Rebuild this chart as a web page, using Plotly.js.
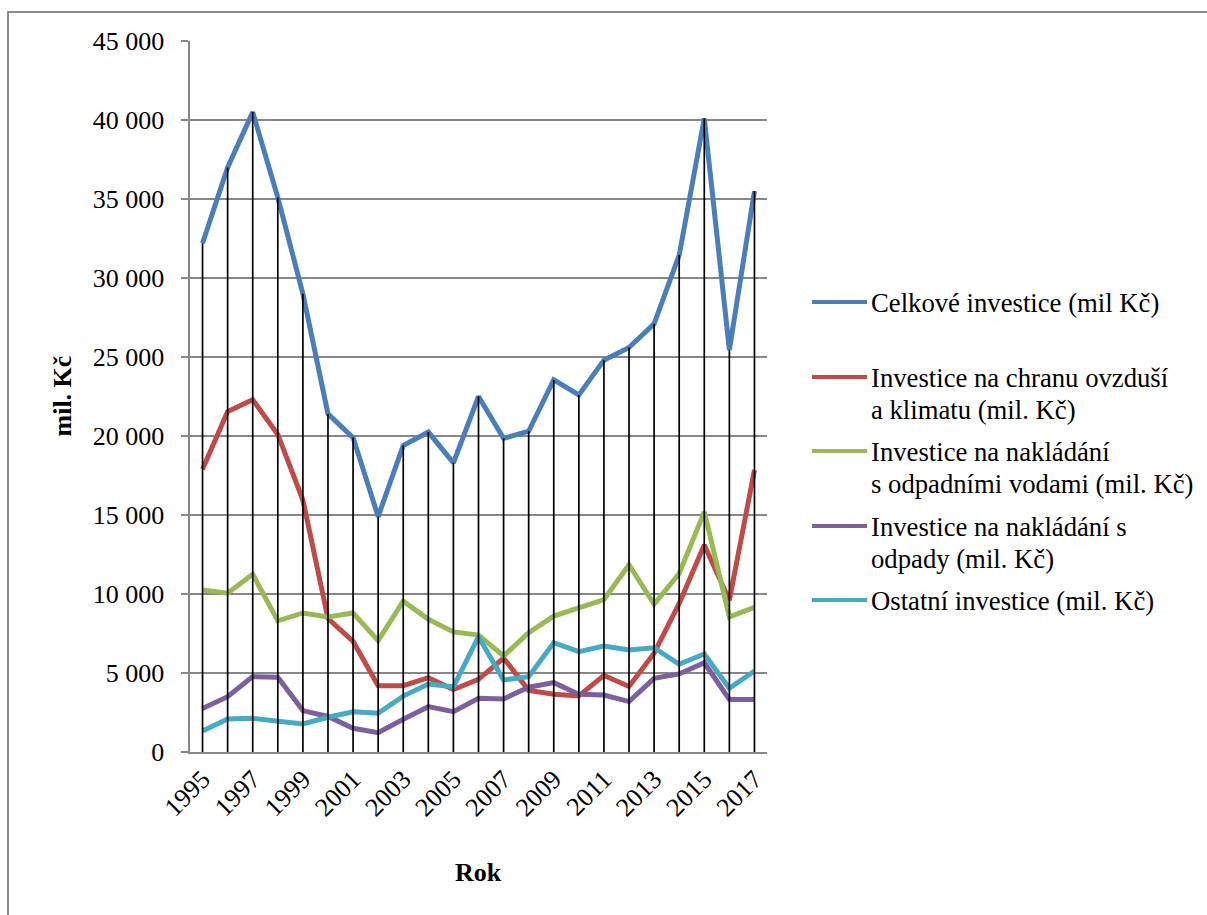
<!DOCTYPE html>
<html>
<head>
<meta charset="utf-8">
<script src="https://cdn.plot.ly/plotly-3.0.1.min.js"></script>
<style>
  html, body { margin: 0; padding: 0; background: #fff; overflow: hidden; }
  #chart { width: 1207px; height: 915px; }
  #frame { position: absolute; left: 7px; top: 11px; width: 1400px; height: 1100px;
           border: 2px solid #8c8c8c; pointer-events: none; }
</style>
</head>
<body>
<div id="chart"></div>
<div id="frame"></div>
<script>
// ---- data ----
const years = [1995, 1996, 1997, 1998, 1999, 2000, 2001, 2002, 2003, 2004, 2005, 2006,
               2007, 2008, 2009, 2010, 2011, 2012, 2013, 2014, 2015, 2016, 2017];
const celkove = [32200, 37000, 40500, 35100, 29000, 21400, 19900, 14900, 19400, 20250, 18300, 22500,
                 19850, 20300, 23550, 22600, 24800, 25600, 27100, 31450, 40100, 25450, 35500];
const ovzdusi = [17900, 21550, 22300, 20100, 15950, 8450, 7000, 4200, 4200, 4700, 3950, 4600,
                 5950, 3900, 3650, 3550, 4850, 4150, 6250, 9400, 13100, 9600, 17850];
const vody = [10250, 10050, 11250, 8300, 8800, 8550, 8800, 7050, 9550, 8400, 7600, 7400,
              6080, 7550, 8600, 9100, 9650, 11850, 9350, 11300, 15200, 8550, 9150];
const odpady = [2750, 3500, 4770, 4730, 2620, 2250, 1500, 1220, 2070, 2870, 2550, 3400,
                3360, 4100, 4390, 3650, 3610, 3190, 4660, 4940, 5650, 3330, 3330];
const ostatni = [1330, 2090, 2130, 1980, 1770, 2200, 2550, 2450, 3540, 4300, 4130, 7300,
                 4560, 4770, 6920, 6350, 6710, 6460, 6600, 5550, 6200, 4030, 5130];

const seriesNames = [
  "Celkové investice (mil Kč)",
  "Investice na chranu ovzduší<br>a klimatu (mil. Kč)",
  "Investice na nakládání<br>s odpadními vodami (mil. Kč)",
  "Investice na nakládání s<br>odpady (mil. Kč)",
  "Ostatní investice (mil. Kč)"
];
const seriesValues = [celkove, ovzdusi, vody, odpady, ostatni];
const seriesColors = ["#4a7ebb", "#be4b48", "#98b954", "#7d5fa0", "#46aac5"];
const yTickVals = [0, 5000, 10000, 15000, 20000, 25000, 30000, 35000, 40000, 45000];
const yTickText = ["0", "5 000", "10 000", "15 000", "20 000", "25 000", "30 000", "35 000", "40 000", "45 000"];
const xTickVals = [1995, 1997, 1999, 2001, 2003, 2005, 2007, 2009, 2011, 2013, 2015, 2017];
const xTitle = "Rok";
const yTitle = "mil. Kč";

// ---- layout geometry ----
const W = 1207, H = 915;
const M = { l: 190, r: 440, t: 41, b: 163 };
const PW = W - M.l - M.r, PH = H - M.t - M.b;
const px2x = px => (px - M.l) / PW;
const py2y = py => (M.t + PH - py) / PH;

const FONT = "Liberation Serif";
const GRID = "#878787";

const traces = seriesValues.map((vals, i) => ({
  type: "scatter", mode: "lines", x: years, y: vals,
  name: seriesNames[i], showlegend: false,
  line: { color: seriesColors[i], width: 5 }
}));

// drop lines (from highest series down to the axis)
const dx = [], dy = [];
years.forEach((yr, i) => {
  const top = Math.max(...seriesValues.map(s => s[i]));
  dx.push(yr, yr, null); dy.push(0, top, null);
});
traces.push({ type: "scatter", mode: "lines", x: dx, y: dy, showlegend: false,
  hoverinfo: "skip", line: { color: "#000", width: 1.7 } });

// custom legend
const shapes = [], annotations = [];
const legendY = [302, 377, 451, 526, 600];
seriesNames.forEach((nm, i) => {
  const yy = py2y(legendY[i]);
  shapes.push({ type: "line", xref: "paper", yref: "paper",
    x0: px2x(812), x1: px2x(867), y0: yy, y1: yy,
    line: { color: seriesColors[i], width: 4 } });
  nm.split("<br>").forEach((ln, j) => {
    annotations.push({ xref: "paper", yref: "paper", x: px2x(869), y: py2y(legendY[i] + 32 * j + 1),
      xanchor: "left", yanchor: "middle", showarrow: false, text: ln,
      font: { family: FONT, size: 26.7, color: "#000" } });
  });
});
annotations.push({ xref: "paper", yref: "paper", x: px2x(478), y: py2y(872),
  xanchor: "center", yanchor: "middle", showarrow: false, text: "<b>" + xTitle + "</b>",
  font: { family: FONT, size: 26, color: "#000" } });
annotations.push({ xref: "paper", yref: "paper", x: px2x(62), y: 0.5, textangle: -90,
  xanchor: "center", yanchor: "middle", showarrow: false, text: "<b>" + yTitle + "</b>",
  font: { family: FONT, size: 26, color: "#000" } });

const layout = {
  width: W, height: H, margin: M,
  paper_bgcolor: "#fff", plot_bgcolor: "#fff",
  font: { family: FONT, size: 26, color: "#000" },
  showlegend: false,
  xaxis: {
    type: "linear", range: [1994.5, 2017.5], tickvals: xTickVals, ticktext: xTickVals.map(String),
    tickangle: -45, showgrid: false, zeroline: false, ticks: "",
    showline: true, linecolor: GRID, linewidth: 1.6,
    tickfont: { family: FONT, size: 26, color: "#000" }
  },
  yaxis: {
    range: [0, 45000], tickvals: yTickVals, ticktext: yTickText,
    showgrid: true, gridcolor: GRID, gridwidth: 1.4, zeroline: false,
    ticks: "outside", ticklen: 7, tickcolor: GRID, tickwidth: 1.4,
    showline: true, linecolor: GRID, linewidth: 1.6,
    ticklabelstandoff: 12,
    tickfont: { family: FONT, size: 26, color: "#000" }
  },
  shapes: shapes,
  annotations: annotations
};

Plotly.newPlot("chart", traces, layout, { staticPlot: true, displayModeBar: false });
</script>
</body>
</html>
